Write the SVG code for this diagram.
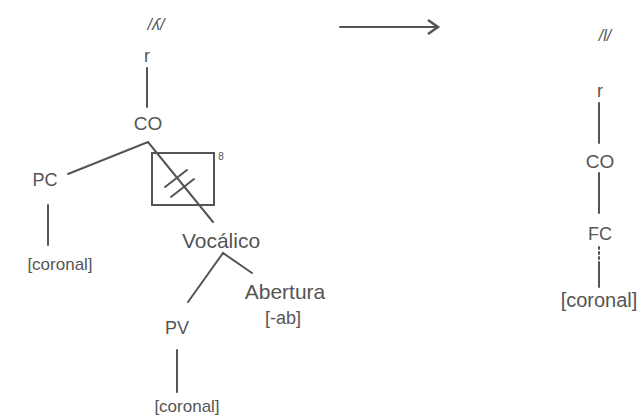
<svg xmlns="http://www.w3.org/2000/svg" width="644" height="417" viewBox="0 0 644 417">
<defs>
<style>
text{font-family:"Liberation Sans","DejaVu Sans",Arial,sans-serif;fill:#555;text-anchor:middle}
.seg{font-style:italic;font-size:16px}
.n{font-size:18px}
.c{stroke:#555;stroke-width:2;fill:none;stroke-linecap:round}
</style>
<marker id="ah" markerWidth="14" markerHeight="16" refX="11" refY="8" orient="auto" markerUnits="userSpaceOnUse">
<polyline points="1,1 11,8 1,15" fill="none" stroke="#555" stroke-width="2.5"/>
</marker>
</defs>
<rect width="644" height="417" fill="#fff"/>
<g id="connectors">
<line class="c" x1="147" y1="68" x2="147" y2="107"/>
<polyline class="c" points="68,174 148,142 213,222"/>
<line class="c" x1="48" y1="205" x2="48" y2="245"/>
<polyline class="c" points="188,302 223,253 252,273"/>
<line class="c" x1="177" y1="350" x2="177" y2="392"/>
<line class="c" x1="165" y1="187" x2="187" y2="170"/>
<line class="c" x1="171" y1="197" x2="194" y2="179"/>
<line class="c" x1="340" y1="27" x2="438" y2="27" marker-end="url(#ah)"/>
<line class="c" x1="599" y1="103" x2="599" y2="143"/>
<line class="c" x1="599" y1="173" x2="599" y2="213"/>
<line class="c" x1="599" y1="247" x2="599" y2="259" stroke-dasharray="2 3" stroke-width="1.5"/>
<line class="c" x1="599" y1="262" x2="599" y2="287"/>
</g>
<g id="box"><rect x="152" y="153" width="62" height="52" fill="none" stroke="#555" stroke-width="2"/><text x="221" y="160" style="font-size:10px">8</text></g>
<g id="seg-left"><text class="seg" x="156" y="30">/ʎ/</text></g>
<g id="r-left"><text class="n" x="147" y="62">r</text></g>
<g id="co-left"><text class="n" x="148" y="130" style="font-size:19px">CO</text></g>
<g id="pc-left"><text class="n" x="45" y="186">PC</text></g>
<g id="coronal-left"><text class="n" x="60" y="270" style="font-size:17px">[coronal]</text></g>
<g id="vocalico"><text class="n" x="221" y="248" style="font-size:21px">Vocálico</text></g>
<g id="abertura"><text class="n" x="285" y="299" style="font-size:21px">Abertura</text></g>
<g id="ab"><text class="n" x="283" y="324">[-ab]</text></g>
<g id="pv"><text class="n" x="177" y="334">PV</text></g>
<g id="coronal-bottom"><text class="n" x="187" y="412" style="font-size:17px">[coronal]</text></g>
<g id="seg-right"><text class="seg" x="605" y="41">/l/</text></g>
<g id="r-right"><text class="n" x="600" y="97">r</text></g>
<g id="co-right"><text class="n" x="600" y="168" style="font-size:19px">CO</text></g>
<g id="fc-right"><text class="n" x="600" y="240">FC</text></g>
<g id="coronal-right"><text class="n" x="599" y="307" style="font-size:20px">[coronal]</text></g>
</svg>
